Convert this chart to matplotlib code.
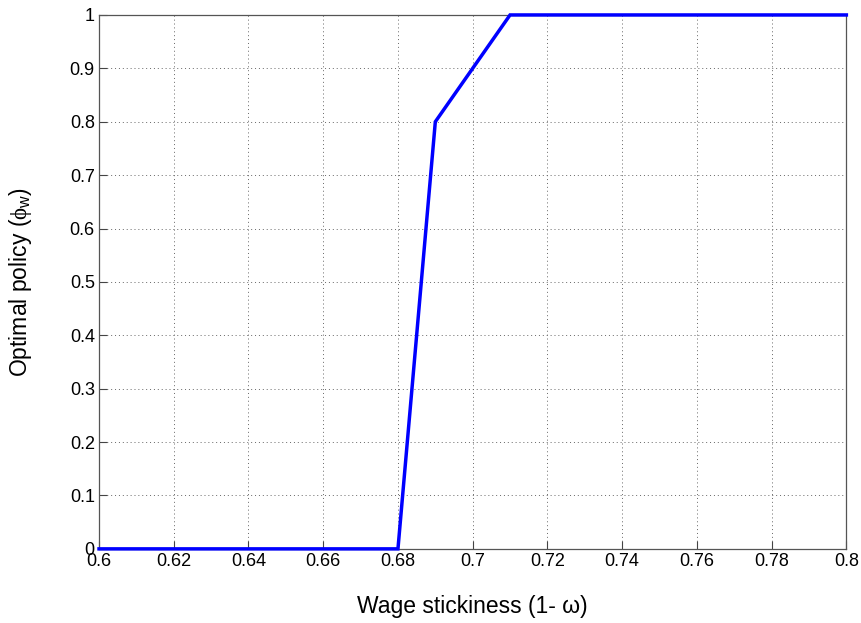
import matplotlib
matplotlib.use("Agg")
import matplotlib.pyplot as plt

# optimal wage-indexation policy against wage stickiness
stickiness = [0.60, 0.61, 0.62, 0.63, 0.64, 0.65, 0.66, 0.67, 0.68, 0.69, 0.70, 0.71,
              0.72, 0.73, 0.74, 0.75, 0.76, 0.77, 0.78, 0.79, 0.80]
phi_w = [0, 0, 0, 0, 0, 0, 0, 0, 0, 0.8, 0.9, 1.0,
         1, 1, 1, 1, 1, 1, 1, 1, 1]

xticks = [0.6, 0.62, 0.64, 0.66, 0.68, 0.7, 0.72, 0.74, 0.76, 0.78, 0.8]
xticklabels = ["0.6", "0.62", "0.64", "0.66", "0.68", "0.7", "0.72", "0.74", "0.76", "0.78", "0.8"]
yticks = [0, 0.1, 0.2, 0.3, 0.4, 0.5, 0.6, 0.7, 0.8, 0.9, 1]
yticklabels = ["0", "0.1", "0.2", "0.3", "0.4", "0.5", "0.6", "0.7", "0.8", "0.9", "1"]

plt.rcParams["font.family"] = ["Liberation Sans", "DejaVu Sans"]
plt.rcParams["mathtext.fontset"] = "custom"
plt.rcParams["mathtext.rm"] = "Liberation Sans"
plt.rcParams["mathtext.it"] = "Liberation Serif"

fig = plt.figure(figsize=(8.61, 6.23), dpi=100)
ax = fig.add_axes([0.115, 0.119, 0.868, 0.857])

ax.plot(stickiness, phi_w, color="#0000ff", linewidth=2.5, solid_joinstyle="miter", clip_on=False, zorder=3)

ax.set_xlim(0.6, 0.8)
ax.set_ylim(0, 1)
ax.set_xticks(xticks)
ax.set_xticklabels(xticklabels)
ax.set_yticks(yticks)
ax.set_yticklabels(yticklabels)
ax.tick_params(direction="in", length=6, width=0.8, color="#444444", labelsize=13, pad=3)
ax.grid(True, linestyle=(0, (1, 3)), color="#666666", linewidth=0.7)
for s in ax.spines.values():
    s.set_color("#555555")
    s.set_linewidth(0.9)

ax.set_xlabel("Wage stickiness (1- \u03c9)", fontsize=16.5, labelpad=18)
ax.set_ylabel(r"Optimal policy ($\phi_{\rm w}$)", fontsize=16.5, labelpad=26)

fig.savefig("out.png", dpi=100)
